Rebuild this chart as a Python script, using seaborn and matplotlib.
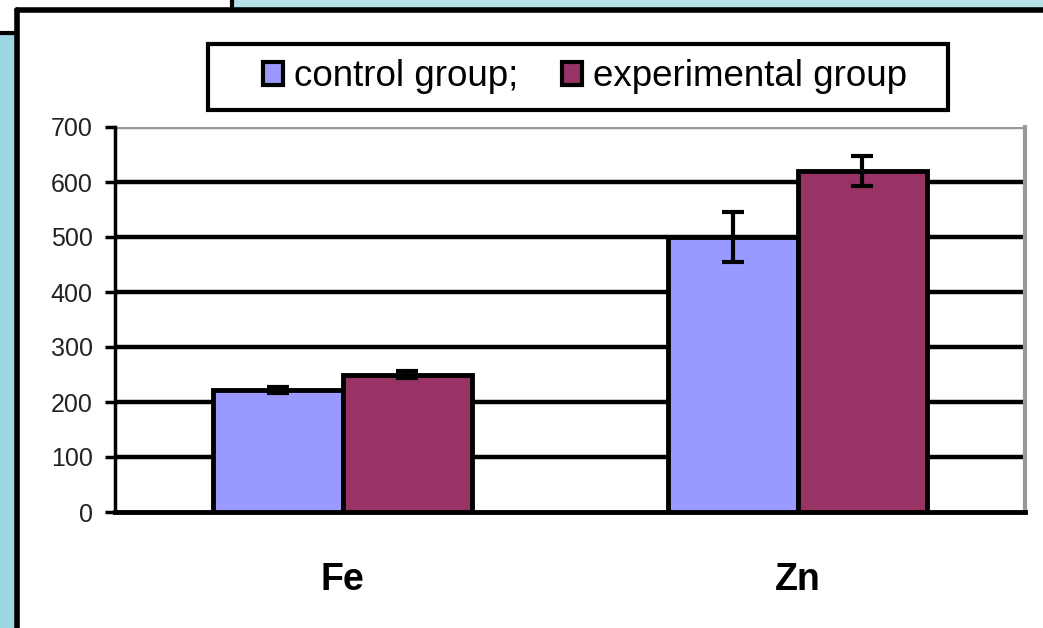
import matplotlib.pyplot as plt
import matplotlib.patches as mpatches
import numpy as np
import pandas as pd
import seaborn as sns

# values
elements = ["Fe", "Zn"]
groups = ["control group;", "experimental group"]
control_vals = [222, 500]
experimental_vals = [250, 620]
control_err = [5, 45]
experimental_err = [6, 28]
y_ticks = [0, 100, 200, 300, 400, 500, 600, 700]

colors = {"control group;": "#9999FF", "experimental group": "#993366"}

df = pd.DataFrame({
    "element": elements * 2,
    "group": [groups[0]] * 2 + [groups[1]] * 2,
    "value": control_vals + experimental_vals,
    "err": control_err + experimental_err,
})

sns.set_style("white")
plt.rcParams["font.family"] = ["Liberation Sans", "DejaVu Sans"]
plt.rcParams["text.color"] = "black"

W, H = 1043, 628
fig = plt.figure(figsize=(W / 100, H / 100), dpi=100)
fig.patch.set_facecolor("white")

# slide background pieces (light blue strips with black edges)
def px_rect(x0, y0, x1, y1, **kw):
    fig.patches.append(mpatches.Rectangle((x0 / W, 1 - y1 / H), (x1 - x0) / W, (y1 - y0) / H,
                                          transform=fig.transFigure, **kw))

px_rect(0, 33, 17, H, facecolor="#9fd6e4", edgecolor="none")
px_rect(232, 0, W, 10, facecolor="#b4e0e8", edgecolor="none")
fig.lines.append(plt.Line2D([0, 17 / W], [1 - 33 / H] * 2, transform=fig.transFigure, color="black", lw=3))
fig.lines.append(plt.Line2D([232 / W] * 2, [1, 1 - 10 / H], transform=fig.transFigure, color="black", lw=3))
fig.lines.append(plt.Line2D([17 / W, 1], [1 - 10 / H] * 2, transform=fig.transFigure, color="black", lw=4))
fig.lines.append(plt.Line2D([17 / W] * 2, [1 - 10 / H, 0], transform=fig.transFigure, color="black", lw=4))

ax = fig.add_axes([115 / W, 1 - 512 / H, 910 / W, 385 / H])
sns.barplot(data=df, x="element", y="value", hue="group", palette=colors,
            width=0.57, edgecolor="black", linewidth=3.5, errorbar=None,
            saturation=1, ax=ax, legend=False, zorder=3)

# error bars at bar centres
for patch_group, grp in zip(ax.containers, groups):
    sub = df[df["group"] == grp]
    xs = [p.get_x() + p.get_width() / 2 for p in patch_group]
    ax.errorbar(xs, sub["value"], yerr=sub["err"], fmt="none", ecolor="black",
                elinewidth=3, capsize=8, capthick=3, zorder=4)

ax.set_xlim(-0.5, 1.5)
ax.set_ylim(0, 700)
ax.set_yticks(y_ticks)
ax.set_yticklabels([str(v) for v in y_ticks], fontsize=18, color="#222222")
for v in y_ticks[1:-1]:
    ax.axhline(v, color="black", lw=3.2, zorder=1)
ax.axhline(700, color="#999999", lw=2.5, zorder=1)

ax.set_xticks([0, 1])
ax.set_xticklabels(elements, fontsize=27, fontweight="bold", color="black")
ax.tick_params(axis="x", length=0, pad=36)
ax.set_xticks([-0.5, 0.5, 1.5], minor=True)
ax.tick_params(axis="x", which="minor", length=9, width=3, color="black", direction="out")
ax.tick_params(axis="y", length=7, width=2.5, color="black", direction="out", left=True, pad=9)
ax.set_xlabel("")
ax.set_ylabel("")

ax.spines["top"].set_visible(False)
ax.spines["right"].set_color("#999999")
ax.spines["right"].set_linewidth(3)
ax.spines["left"].set_color("black")
ax.spines["left"].set_linewidth(2.5)
ax.spines["bottom"].set_color("black")
ax.spines["bottom"].set_linewidth(3.5)

# legend box drawn separately so its padding matches the original
px_rect(208, 44, 948, 110, facecolor="white", edgecolor="black", linewidth=3, zorder=5)
handles = [mpatches.Patch(facecolor=colors[g], edgecolor="black", linewidth=3, label=g) for g in groups]
leg = fig.legend(handles=handles, loc="center", bbox_to_anchor=(585 / W, 1 - 77 / H), ncol=2,
                 fontsize=26.5, frameon=False,
                 handlelength=0.55, handleheight=0.55, handletextpad=0.3, columnspacing=1.2,
                 borderpad=0.3)
leg.set_zorder(6)
for t in leg.get_texts():
    t.set_color("black")

fig.savefig("out.png", dpi=100, facecolor=fig.get_facecolor())
